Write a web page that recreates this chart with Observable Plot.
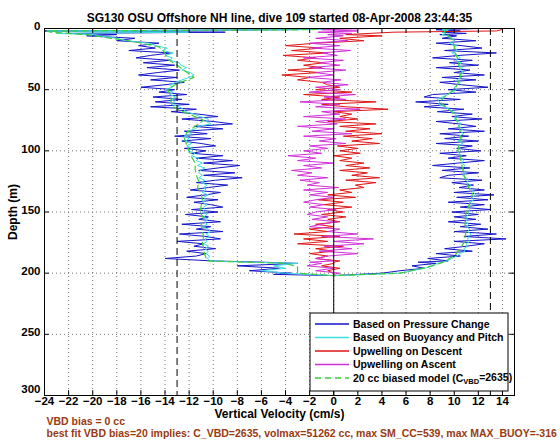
<!DOCTYPE html>
<html><head><meta charset="utf-8">
<script src="https://cdn.jsdelivr.net/npm/d3@7"></script>
<script src="https://cdn.jsdelivr.net/npm/@observablehq/plot@0.6"></script>
<style>body{margin:0;background:#fff} svg{display:block}</style>
</head><body><div id="chart"></div>
<script>
// Depth sampling grid (m) shared by the measured series
const depthGrid = [
  0,1,2,3,4,5,
  6,8,10,12,14,16,18,20,22,24,26,28,
  30,32,34,36,38,40,42,44,46,48,50,52,54,56,58,
  60,62,64,66,68,70,72,74,76,78,80,82,84,86,88,
  90,92,94,96,98,100,102,104,106,108,110,112,114,116,118,
  120,122,124,126,128,130,132,134,136,138,140,142,144,146,148,
  150,152,154,156,158,160,162,164,166,168,170,172,174,176,178,
  180,182,184,186,188,190,
  191,192,194,196,198,200,201,202
];
// Based on Pressure Change (descent)
const pressureDescent = [
  0.5,-4,-24,-9,-22,-18,
  -20.5,-16.5,-18,-14.5,-16.2,-14.8,-17,-13.5,-15.2,-16.4,-13.6,-15.8,
  -13.2,-15.5,-12.8,-14.6,-16.2,-13,-15.2,-12.4,-14,-16,-13.2,-14.5,-12.2,-15,-12.6,
  -14.8,-12,-15.2,-11.4,-13.5,-11.2,-9.6,-12.6,-10,-8.4,-11.6,-9.2,-12.4,-10.5,-13.2,
  -10.2,-12.6,-11,-9.8,-12.4,-10.6,-11.8,-9.2,-11.4,-8.4,-10.8,-7.8,-9.6,-11.2,-8.2,
  -10.8,-7.6,-9.8,-11.4,-8.8,-10.4,-11.9,-9.4,-10.6,-12.2,-9.6,-11.6,-10.2,-9.2,-11.8,
  -9.6,-12.3,-10.4,-11.2,-9.4,-12.6,-10.2,-11.4,-9.2,-12.8,-10.6,-9.4,-13,-10.8,-11.6,
  -9.8,-12.2,-10.6,-11.4,-14,-10,
  -6,-3,-8,-4.5,-7,-3.5,-5,0
];
// Based on Pressure Change (ascent)
const pressureAscent = [
  12,8.5,10.5,9,11,8.8,
  10.2,9,11.8,8.5,10.6,12.3,9.2,13.5,10.4,8.2,11.5,9.6,
  12,8.5,11.3,10,12.5,9,11.8,8.8,10.6,12.8,9.5,11.8,8.2,7.5,10.5,
  6.8,9.5,7.5,10.8,8.6,11.5,9.8,12.3,8.5,10.4,11.8,9.5,12.5,8.8,11.2,
  9.2,12,8.5,11.5,10.2,12.2,8.8,11,9.5,12.5,10.3,8.2,11.3,9,12,
  9.5,8.8,12.3,9.8,11.6,10.4,12.5,10,13.3,10.2,12.8,9.5,12.5,10.5,13,
  9.8,12,10,11.8,9.5,12.2,10.5,12.8,10,13.5,10.8,14.3,10,12.5,11,
  9.2,11.5,8.5,10.5,7.8,9.5,
  7,8.5,6.5,7.5,5.5,4,2,0
];
// Based on Buoyancy and Pitch (descent)
const buoyancyDescent = [
  0,-3,-23.8,-12,-23,-20,
  -19.5,-18,-17.2,-15.3,-14.8,-13.8,-14.2,-13.3,-14,-13.4,-13.6,-12.8,
  -12.7,-12.2,-12.6,-11.9,-11.6,-12,-12.6,-13.1,-13.6,-13.4,-14,-13.3,-13.6,-13.1,-13.5,
  -13.2,-13.5,-12.8,-12.5,-12.3,-11.6,-11.1,-10.4,-10.6,-10.2,-11.2,-11.5,-12.1,-11.8,-12.4,
  -12,-12.3,-11.8,-12.2,-11.7,-12.1,-11.5,-11.8,-11.2,-11.4,-10.9,-11.3,-10.7,-11.1,-11.2,
  -10.9,-11.2,-10.7,-11,-10.5,-10.8,-10.6,-10.9,-10.4,-10.8,-10.6,-10.9,-10.5,-10.8,-10.7,
  -10.9,-10.5,-10.8,-10.4,-10.7,-10.5,-10.9,-10.4,-10.2,-10.6,-10.3,-10.7,-10.5,-10.8,-10.4,
  -10.7,-10.4,-10.6,-10.3,-10.5,-10.2,
  -7,-3,-5,-4,-6,-4,-2,0
];
// Based on Buoyancy and Pitch (ascent)
const buoyancyAscent = [
  10,9,9.5,9,9.3,9,
  9.5,9.8,10,9.6,10.2,10,10.3,9.8,10.2,10.5,10.1,10.6,
  10.3,10.7,10.5,10.8,10.4,10.6,10.2,10.5,10.3,10,10.2,9.8,9.5,9,8.6,
  8.8,8.7,9.2,9.6,9.9,10.1,10.3,10,10.4,10.6,10.3,10.7,10.5,10.8,10.4,
  10.6,10.3,10.7,10.3,10.5,10.2,10.4,10.6,10.5,10.8,10.6,10.9,10.7,10.8,11,
  10.7,11,11.2,11,11.4,11.2,11.5,11.6,11.8,11.5,11.6,11.3,11.5,11.2,11.3,
  11.1,11.2,11,11.1,10.9,11.2,11,11.3,11.1,11.4,11.2,11.1,11.3,11,11.1,
  10.8,10.9,10.5,10.2,9.8,9.4,
  9,8.6,8.2,7.6,6.5,5.5,3,0
];
// Upwelling on Descent
const upwellingDescent = [
  13.9,13.9,13.5,5,3,1,
  4,0.5,2.5,-1.5,-4,-1,-3.5,-0.5,-4.2,-1.5,-3,-0.8,
  -2.5,-1,-3.8,-1.2,-4.3,-2,-3,-1,-0.5,0.5,-1.5,1.5,-2.5,0.5,-1,
  3.5,-1,1,4.5,0,1.5,0.5,2,-0.5,3.5,0.5,3,1,4,0.8,
  3.2,1.5,3.8,0.3,2,0.5,2.2,0,1.5,0.5,2.5,1,3,0.5,2.8,
  1.5,3.8,1,3.5,1.8,2.5,0.5,1.5,-0.5,1.8,-1.3,0.8,-0.8,1.5,-0.5,
  0.8,-1,1,-0.5,0.5,-1.5,0,-2,-0.5,-3.3,0.5,-2.5,-0.5,-3,0.8,
  -1.5,0,-2,-0.5,-1.5,0.5,
  0,0,-1,0.5,-0.5,0,0,0
];
// Upwelling on Ascent
const upwellingAscent = [
  3,-1,2,-1.3,1.5,-0.5,
  0.8,-1.5,1.2,-2,0.5,-1.8,1.4,-1,0.3,-2.5,0.8,-1.2,
  0.5,-2,1,-1.5,0,-2.2,0.6,-1,1.2,-1.5,0.5,-2,1.8,-0.8,1,
  -2.8,0.5,-1.5,2.2,-1,0.5,-2.5,1,-1.5,0.3,-3,0,-1.8,1.5,-2.5,
  0.2,-1.2,1,-2,-0.5,-2.5,-1,-3.8,-1.5,-3,0,-2.5,-1,-3.5,-1.8,
  -3,-0.5,-2.8,-1.2,-2.2,0.4,-2.5,-0.5,-2,0,-1.5,-2.5,-0.8,-2,0.2,
  -1.5,-2.2,-0.5,-1.8,0.3,-1,-2,0.5,-0.5,2,-1,3.3,0,2.5,-0.8,
  1.5,-1.2,2,-0.5,-1.5,0,
  -2,-1,-2.2,0,-1.5,0.5,0,0
];
// 20 cc biased model
const modelDepth = [0,1,2,3,5,8,10,
  15,20,25,30,35,40,45,50,55,60,65,70,75,80,85,90,95,100,105,110,115,120,125,130,135,140,145,150,155,160,165,170,175,180,185,190,
  192,195,200,202];
const modelDescent = [-0.5,-2,-23.8,-23.5,-20.5,-18.5,-17,
  -14.5,-14,-13.8,-13,-12.3,-11.6,-13,-13.8,-13.5,-13.5,-13.2,-12,-10.8,-11.5,-12.2,-12.4,-12.2,-12,-11.8,-11.5,-11.5,-11.4,-11.2,-11.3,-11,-10.9,-11,-11.1,-10.8,-11,-10.9,-10.8,-10.9,-10.8,-10.7,-10.5,
  -4,-3,-3,0];
const modelAscent = [9.5,9.3,9.2,9.2,9.4,9.7,9.9,
  10,10.1,10.3,10.4,10.6,10.5,10.3,10,9.3,8.8,9.4,10,10.2,10.4,10.5,10.5,10.4,10.3,10.5,10.6,10.7,10.8,11,11.2,11.5,11.4,11.2,11,10.9,10.9,11,10.9,10.8,10.5,10.1,9.3,
  8.8,7.8,5.5,0];

const xTicks = [-24,-22,-20,-18,-16,-14,-12,-10,-8,-6,-4,-2,0,2,4,6,8,10,12,14];
const yTicks = [0,50,100,150,200,250,300];
const dashedRefs = [-13,13];
const zeroRef = [0];
const titleText = "SG130 OSU Offshore NH line, dive 109 started 08-Apr-2008 23:44:35";
const xLabel = "Vertical Velocity (cm/s)";
const yLabel = "Depth (m)";
const captionLines = ["VBD bias = 0 cc",
  "best fit VBD bias=20 implies: C_VBD=2635, volmax=51262 cc, max SM_CC=539, max MAX_BUOY=-316"];
const legendLabels = ["Based on Pressure Change","Based on Buoyancy and Pitch","Upwelling on Descent","Upwelling on Ascent","20 cc biased model (C|VBD|=2635)"];
const legendColors = ["#1414c8","#3ddede","#e01515","#d030d8","#3ccc3c"];
const legendDash = [null,null,null,null,"6,4"];

function zip(depths, vals, name){
  if (depths.length !== vals.length) throw new Error(name + " length " + vals.length + " vs " + depths.length);
  return depths.map((d,i)=>({d, v: vals[i]}));
}
const [cBlue,cCyan,cRed,cMag,cGreen] = legendColors;
const font = "'Liberation Sans', Arial, Helvetica, sans-serif";
const brown = "#993a10";
const yTicksUpper = yTicks.slice(0, -1);
const yTickLast = yTicks.slice(-1);

const chart = Plot.plot({
  width:560, height:442, marginTop:28, marginRight:46, marginBottom:47, marginLeft:44,
  style:{fontFamily:font, background:"#fff", overflow:"visible"},
  x:{domain:[-24,15]},
  y:{domain:[0,300], reverse:true},
  marks:[
    Plot.gridX(xTicks, {stroke:"#777", strokeOpacity:1, strokeDasharray:"1,3"}),
    Plot.gridY(yTicks, {stroke:"#777", strokeOpacity:1, strokeDasharray:"1,3"}),
    Plot.line(zip(depthGrid, pressureDescent, "pd"), {x:"v", y:"d", stroke:cBlue, strokeWidth:1, clip:true}),
    Plot.line(zip(depthGrid, pressureAscent, "pa"), {x:"v", y:"d", stroke:cBlue, strokeWidth:1, clip:true}),
    Plot.line(zip(depthGrid, buoyancyDescent, "bd"), {x:"v", y:"d", stroke:cCyan, strokeWidth:1, clip:true}),
    Plot.line(zip(depthGrid, buoyancyAscent, "ba"), {x:"v", y:"d", stroke:cCyan, strokeWidth:1, clip:true}),
    Plot.line(zip(depthGrid, upwellingDescent, "ud"), {x:"v", y:"d", stroke:cRed, strokeWidth:1, clip:true}),
    Plot.line(zip(depthGrid, upwellingAscent, "ua"), {x:"v", y:"d", stroke:cMag, strokeWidth:1, clip:true}),
    Plot.line(zip(modelDepth, modelDescent, "md"), {x:"v", y:"d", stroke:cGreen, strokeWidth:1.2, strokeDasharray:"6,4", clip:true}),
    Plot.line(zip(modelDepth, modelAscent, "ma"), {x:"v", y:"d", stroke:cGreen, strokeWidth:1.2, strokeDasharray:"6,4", clip:true}),
    Plot.ruleX(zeroRef, {x:d=>d, stroke:"black", strokeWidth:1}),
    Plot.ruleX(dashedRefs, {x:d=>d, stroke:"black", strokeWidth:1, strokeDasharray:"7,4"}),
    Plot.frame({stroke:"black"}),
    Plot.ruleX(xTicks, {x:d=>d, y1:300, y2:296, stroke:"black"}),
    Plot.ruleX(xTicks, {x:d=>d, y1:0, y2:4, stroke:"black"}),
    Plot.ruleY(yTicks, {y:d=>d, x1:-24, x2:-23.6, stroke:"black"}),
    Plot.ruleY(yTicks, {y:d=>d, x1:15, x2:14.6, stroke:"black"}),
    Plot.axisX(xTicks, {anchor:"bottom", tickSize:0, tickPadding:1, fontSize:11.5, fontWeight:"bold", label:null}),
    Plot.axisY(yTicksUpper, {anchor:"left", tickSize:0, tickPadding:4, dy:-2, fontSize:11.5, fontWeight:"bold", label:null}),
    Plot.axisY(yTickLast, {anchor:"left", tickSize:0, tickPadding:4, dy:-6, fontSize:11.5, fontWeight:"bold", label:null}),
    Plot.text([titleText], {text:d=>d, frameAnchor:"top", dy:-15, fontSize:12, fontWeight:"bold", textAnchor:"middle"}),
    Plot.text([xLabel], {text:d=>d, frameAnchor:"bottom", dy:22, fontSize:12, fontWeight:"bold", textAnchor:"middle"}),
    Plot.text([yLabel], {text:d=>d, frameAnchor:"left", dx:-31, rotate:-90, fontSize:12, fontWeight:"bold", textAnchor:"middle"}),
    Plot.text([captionLines[0]], {text:d=>d, frameAnchor:"bottom-left", textAnchor:"start", dx:2, dy:29, fontSize:10.5, fontWeight:"bold", fill:brown}),
    Plot.text([captionLines[1]], {text:d=>d, frameAnchor:"bottom-left", textAnchor:"start", dx:2, dy:41.5, fontSize:10.5, fontWeight:"bold", fill:brown})
  ]
});

// Legend box (MATLAB style, inside lower-right of the axes)
const svg = d3.select(chart);
const fr = {right: 560-46, bottom: 442-47};
const lw = 198, lh = 78;
const lx = fr.right - 6 - lw, ly = fr.bottom - 4 - lh;
const lg = svg.append("g").attr("font-family", font).attr("font-weight","bold")
  .attr("font-size", 10.5).attr("text-anchor","start");
lg.append("rect").attr("x", lx).attr("y", ly).attr("width", lw).attr("height", lh)
  .attr("fill","#fff").attr("stroke","black").attr("stroke-width",1);
legendLabels.forEach((lab, i) => {
  const yy = ly + 11 + i*13.5;
  const ln = lg.append("line").attr("x1", lx+5).attr("x2", lx+39).attr("y1", yy).attr("y2", yy)
    .attr("stroke", legendColors[i]).attr("stroke-width", 1.3);
  if (legendDash[i]) ln.attr("stroke-dasharray", legendDash[i]);
  const t = lg.append("text").attr("x", lx+43).attr("y", yy).attr("dy","0.35em").attr("fill","black");
  const parts = lab.split("|");
  t.append("tspan").text(parts[0]);
  if (parts.length > 1) {
    t.append("tspan").attr("dy","0.3em").attr("font-size",7.5).text(parts[1]);
    t.append("tspan").attr("dy","-0.3em").text(parts[2]);
  }
});
document.getElementById("chart").appendChild(chart);
</script>
</body></html>
